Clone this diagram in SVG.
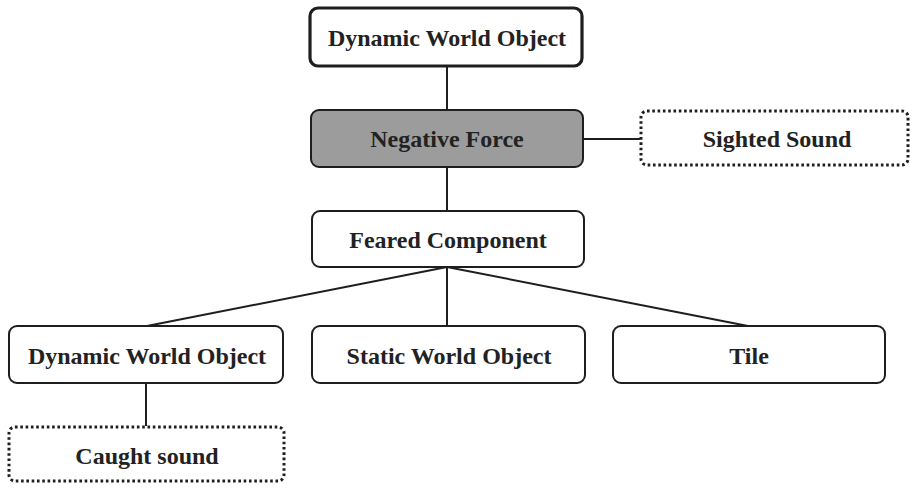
<svg xmlns="http://www.w3.org/2000/svg" width="913" height="488" viewBox="0 0 913 488">
<style>
.box{fill:#fff;stroke:#1e1e1e;stroke-width:2}
.thick{stroke-width:3.2}
.gray{fill:#9c9c9c}
.dot{fill:#fff;stroke:#1e1e1e;stroke-width:3;stroke-dasharray:2.6 2.7}
.lbl{font-family:"Liberation Serif","Times New Roman",serif;font-weight:bold;font-size:24px;fill:#222;text-anchor:middle}
.conn{stroke:#1e1e1e;stroke-width:2;fill:none}
</style>
<rect width="913" height="488" fill="#fff"/>
<g id="connectors">
<line class="conn" x1="447" y1="67" x2="447" y2="110"/>
<line class="conn" x1="583" y1="139" x2="640" y2="139"/>
<line class="conn" x1="447" y1="167" x2="447" y2="211"/>
<line class="conn" x1="447" y1="267" x2="147" y2="326"/>
<line class="conn" x1="447" y1="267" x2="447" y2="326"/>
<line class="conn" x1="447" y1="267" x2="748" y2="326"/>
<line class="conn" x1="146" y1="383" x2="146" y2="426"/>
</g>
<g id="n-dwo-top">
<rect class="box thick" x="310" y="8" width="272" height="58" rx="8"/>
<text class="lbl" x="447" y="46">Dynamic World Object</text>
</g>
<g id="n-negative-force">
<rect class="box gray" x="311" y="110" width="272" height="57" rx="8"/>
<text class="lbl" x="447" y="147">Negative Force</text>
</g>
<g id="n-sighted-sound">
<rect class="dot" x="641" y="111" width="267" height="54" rx="6"/>
<text class="lbl" x="777" y="147">Sighted Sound</text>
</g>
<g id="n-feared-component">
<rect class="box" x="312" y="211" width="272" height="56" rx="8"/>
<text class="lbl" x="448" y="248">Feared Component</text>
</g>
<g id="n-dwo-bottom">
<rect class="box" x="9" y="326" width="274" height="57" rx="8"/>
<text class="lbl" x="147" y="364">Dynamic World Object</text>
</g>
<g id="n-static">
<rect class="box" x="312" y="326" width="273" height="57" rx="8"/>
<text class="lbl" x="449" y="364">Static World Object</text>
</g>
<g id="n-tile">
<rect class="box" x="613" y="326" width="272" height="57" rx="8"/>
<text class="lbl" x="749" y="364">Tile</text>
</g>
<g id="n-caught-sound">
<rect class="dot" x="9" y="427" width="275" height="54" rx="6"/>
<text class="lbl" x="147" y="464">Caught sound</text>
</g>
</svg>
